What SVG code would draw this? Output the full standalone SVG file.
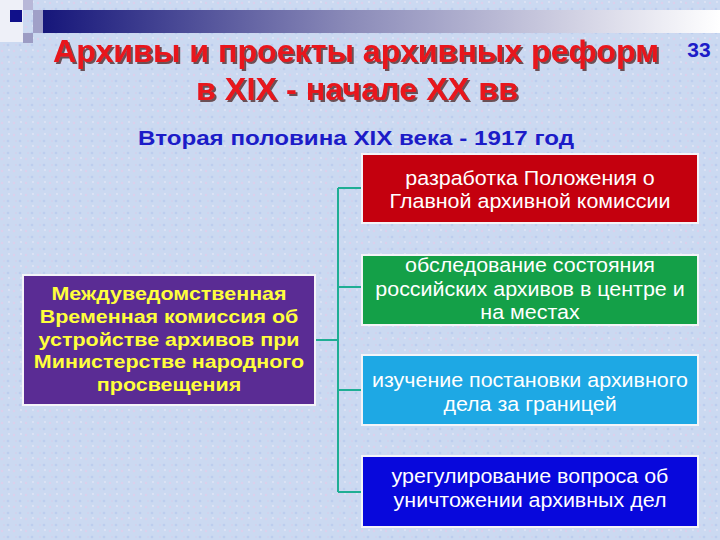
<svg xmlns="http://www.w3.org/2000/svg" width="720" height="540" viewBox="0 0 720 540">
<defs>
<linearGradient id="bar" x1="0" y1="0" x2="1" y2="0">
<stop offset="0" stop-color="#16167a"/>
<stop offset="0.45" stop-color="#8a8ab8"/>
<stop offset="1" stop-color="#ffffff"/>
</linearGradient>
<pattern id="tex" width="12" height="12" patternUnits="userSpaceOnUse">
<rect width="12" height="12" fill="#cbd9f1"/>
<circle cx="2" cy="3" r="1.2" fill="#dcd0ec"/>
<circle cx="8" cy="9" r="1.3" fill="#bccdee"/>
<circle cx="9" cy="2" r="0.9" fill="#e2e6f6"/>
<circle cx="4" cy="9" r="0.8" fill="#d6cbe8"/>
</pattern>
<filter id="shadow" x="-5%" y="-20%" width="110%" height="150%">
<feDropShadow dx="2" dy="2" stdDeviation="0.6" flood-color="#4a2020" flood-opacity="0.75"/>
</filter>
<style>
.title{font-family:"Liberation Sans",Arial,sans-serif;font-weight:bold;font-size:32px;fill:#e8141c;text-anchor:middle}
.sub{font-family:"Liberation Sans",Arial,sans-serif;font-weight:bold;font-size:21px;fill:#1c1cc8;text-anchor:middle}
.box{stroke:#f4f4f8;stroke-width:2}
.bt{font-family:"Liberation Sans",Arial,sans-serif;font-size:19.5px;fill:#ffffff;text-anchor:middle}
.yt{font-family:"Liberation Sans",Arial,sans-serif;font-weight:bold;font-size:19px;fill:#ffff3c;text-anchor:middle}
.conn{stroke:#1fae94;stroke-width:2;fill:none}
</style>
</defs>
<rect width="720" height="540" fill="url(#tex)"/>
<!-- header decoration -->
<rect x="0" y="0" width="23" height="42" fill="#eef0f8"/>
<rect x="23" y="0" width="10" height="10" fill="#b8b8d8"/>
<rect x="33" y="10" width="10" height="23" fill="#a0a0c8"/>
<rect x="23" y="33" width="10" height="10" fill="#9c9cc4"/>
<rect x="10" y="10" width="12" height="12" fill="#10108a"/>
<rect x="43" y="10" width="677" height="23" fill="url(#bar)"/>
<!-- title -->
<g id="title">
<g filter="url(#shadow)">
<text class="title" x="356" y="62" textLength="606" lengthAdjust="spacingAndGlyphs">Архивы и проекты архивных реформ</text>
<text class="title" x="357" y="100" textLength="322" lengthAdjust="spacingAndGlyphs">в XIX - начале XX вв</text>
</g>
<text x="699" y="57" style="font-family:'Liberation Sans',Arial,sans-serif;font-weight:bold;font-size:21px;fill:#1c1cc8;text-anchor:middle">33</text>
<text class="sub" x="356" y="145" textLength="436" lengthAdjust="spacingAndGlyphs">Вторая половина XIX века - 1917 год</text>
</g>
<!-- connectors -->
<g id="connectors">
<path class="conn" d="M315 340 H338 M338 188 V492 M338 188 H362 M338 287 H362 M338 390 H362 M338 492 H362"/>
</g>
<g id="commission">
<rect class="box" x="23" y="275" width="292" height="130" fill="#5a2c94"/>
<g transform="translate(169 0) scale(1.13 1)">
<text class="yt" x="0" y="300">Междуведомственная</text>
<text class="yt" x="0" y="323">Временная комиссия об</text>
<text class="yt" x="0" y="346">устройстве архивов при</text>
<text class="yt" x="0" y="368">Министерстве народного</text>
<text class="yt" x="0" y="391">просвещения</text>
</g>
</g>
<g id="n1">
<rect class="box" x="362" y="154" width="336" height="69" fill="#c4000e"/>
<g transform="translate(530 0) scale(1.1 1)">
<text class="bt" x="0" y="185">разработка Положения о</text>
<text class="bt" x="0" y="208">Главной архивной комиссии</text>
</g>
</g>
<g id="n2">
<rect class="box" x="362" y="255" width="336" height="70" fill="#14a048"/>
<g transform="translate(530 0) scale(1.1 1)">
<text class="bt" x="0" y="272">обследование состояния</text>
<text class="bt" x="0" y="296">российских архивов в центре и</text>
<text class="bt" x="0" y="319">на местах</text>
</g>
</g>
<g id="n3">
<rect class="box" x="362" y="355" width="336" height="70" fill="#1ea8e4"/>
<g transform="translate(530 0) scale(1.1 1)">
<text class="bt" x="0" y="387">изучение постановки архивного</text>
<text class="bt" x="0" y="411">дела за границей</text>
</g>
</g>
<g id="n4">
<rect class="box" x="362" y="456" width="336" height="71" fill="#0808dc"/>
<g transform="translate(530 0) scale(1.1 1)">
<text class="bt" x="0" y="483">урегулирование вопроса об</text>
<text class="bt" x="0" y="507">уничтожении архивных дел</text>
</g>
</g>
</svg>
